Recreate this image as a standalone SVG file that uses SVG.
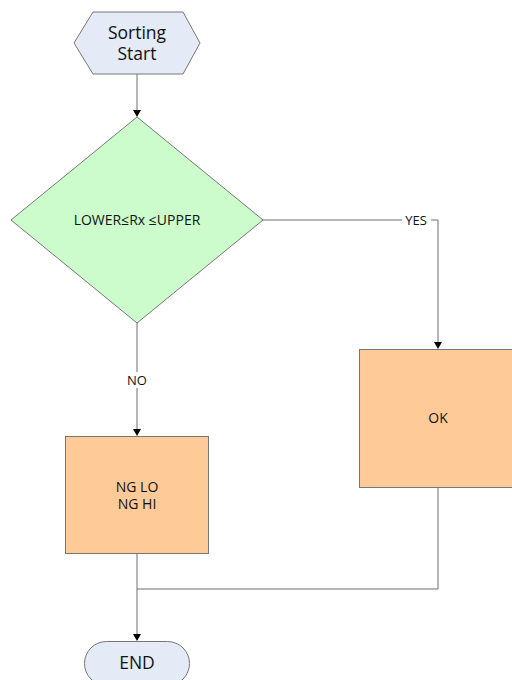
<svg xmlns="http://www.w3.org/2000/svg" width="512" height="680" viewBox="0 0 512 680">
  <defs>
    <style>
      .shape { stroke: #777; stroke-width: 1; }
      .term { fill: #e4eaf6; }
      .dec { fill: #ccfccc; }
      .proc { fill: #fecb98; }
      .conn { fill: none; stroke: #6e6e6e; stroke-width: 1; }
      .head { fill: #000; }
      .txt { font-family: "Open Sans", "Noto Sans", sans-serif; fill: #111; text-anchor: middle; }
      .big { font-size: 17.5px; }
      .small { font-size: 14px; }
      .lbl { font-family: "Open Sans", "Noto Sans", sans-serif; font-size: 13px; fill: #111; text-anchor: middle; }
    </style>
  </defs>

  <g id="connectors">
    <path class="conn" d="M137,74 L137,113"/>
    <path class="head" d="M133,110 L141,110 L137,117 Z"/>
    <path class="conn" d="M263,220 L438,220 L438,345"/>
    <path class="head" d="M434,342 L442,342 L438,349 Z"/>
    <path class="conn" d="M137,323 L137,432"/>
    <path class="head" d="M133,429 L141,429 L137,436 Z"/>
    <path class="conn" d="M137,553 L137,637"/>
    <path class="head" d="M133,634 L141,634 L137,641 Z"/>
    <path class="conn" d="M438,487 L438,589 L137,589"/>
    <rect x="402" y="212" width="29" height="16" fill="#fff"/>
    <text class="lbl" x="416" y="225">YES</text>
    <rect x="125" y="372" width="24" height="16" fill="#fff"/>
    <text class="lbl" x="137" y="385">NO</text>
  </g>

  <g id="start">
    <polygon class="shape term" points="74,43 93,12 183,12 200,43 183,74 93,74"/>
    <text class="txt big"><tspan x="137" y="39">Sorting</tspan><tspan x="137" y="60">Start</tspan></text>
  </g>

  <g id="check">
    <polygon class="shape dec" points="137,117 263,220 137,323 11,220"/>
    <text class="txt small" x="137" y="225">LOWER≤Rx ≤UPPER</text>
  </g>

  <g id="ok">
    <rect class="shape proc" x="359.5" y="349.5" width="158" height="138"/>
    <text class="txt small" x="438" y="423">OK</text>
  </g>

  <g id="ng">
    <rect class="shape proc" x="65.5" y="436.5" width="143" height="117"/>
    <text class="txt small"><tspan x="137" y="492">NG LO</tspan><tspan x="137" y="509">NG HI</tspan></text>
  </g>

  <g id="end">
    <rect class="shape term" x="84.5" y="641.5" width="105" height="44" rx="22" ry="22"/>
    <text class="txt big" x="137" y="669">END</text>
  </g>
</svg>
